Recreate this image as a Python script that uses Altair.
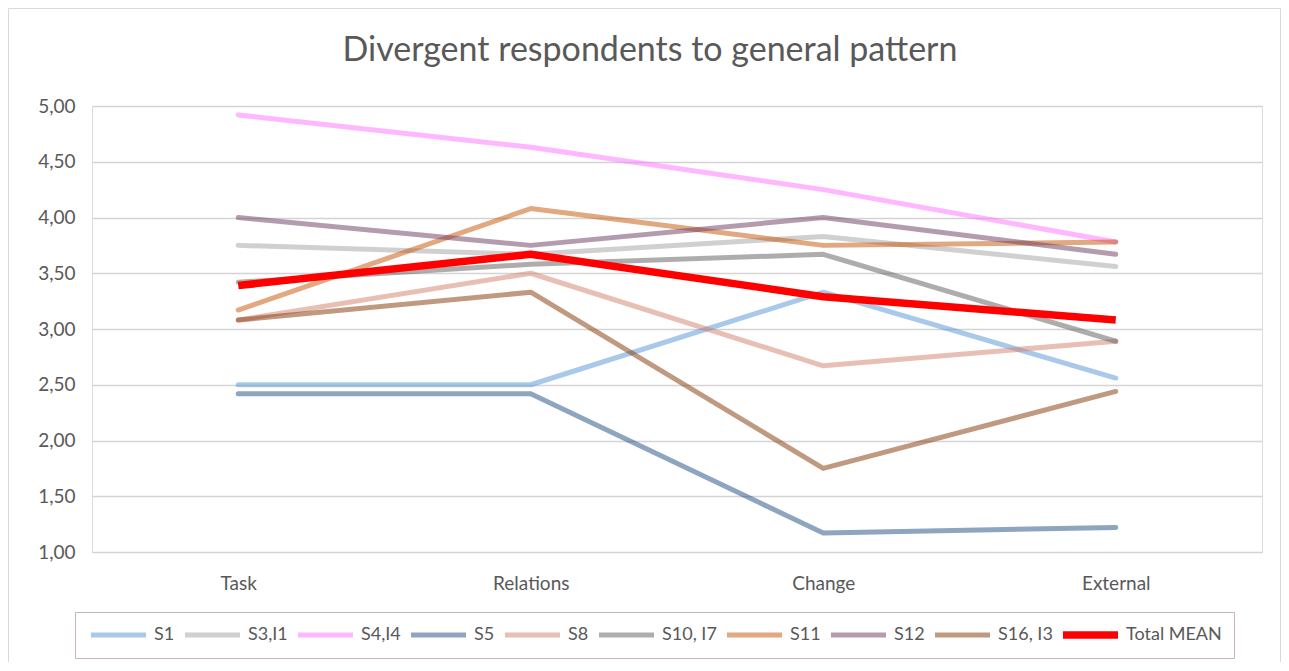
import altair as alt
import pandas as pd

categories = ["Task", "Relations", "Change", "External"]

series_names = ["S1", "S3,I1", "S4,I4", "S5", "S8", "S10, I7", "S11", "S12", "S16, I3", "Total MEAN"]

s1 = [2.50, 2.50, 3.33, 2.56]
s3_i1 = [3.75, 3.67, 3.83, 3.56]
s4_i4 = [4.92, 4.63, 4.25, 3.78]
s5 = [2.42, 2.42, 1.17, 1.22]
s8 = [3.08, 3.50, 2.67, 2.89]
s10_i7 = [3.42, 3.58, 3.67, 2.89]
s11 = [3.17, 4.08, 3.75, 3.78]
s12 = [4.00, 3.75, 4.00, 3.67]
s16_i3 = [3.08, 3.33, 1.75, 2.44]
total_mean = [3.39, 3.67, 3.29, 3.08]

series_values = [s1, s3_i1, s4_i4, s5, s8, s10_i7, s11, s12, s16_i3, total_mean]

colors = ["rgba(83,147,213,0.5)", "rgba(161,161,161,0.5)", "rgba(255,111,255,0.5)",
          "rgba(29,75,127,0.5)", "rgba(209,127,107,0.5)", "rgba(91,91,91,0.5)",
          "rgba(197,81,0,0.5)", "rgba(105,57,93,0.5)", "rgba(129,53,1,0.5)", "#ff0000"]
widths = [5] * 9 + [7.5]

rows = []
for name, vals in zip(series_names, series_values):
    for cat, v in zip(categories, vals):
        rows.append({"series": name, "category": cat, "value": v})
df = pd.DataFrame(rows)

FONT = "Lato"
TXT = "#595959"

legend = alt.Legend(
    orient="none", legendX=-17, legendY=506, direction="horizontal", columns=10,
    symbolType="stroke", symbolSize=3025, clipHeight=22,
    labelFont=FONT, labelFontSize=18, labelColor=TXT, labelOffset=4,
    columnPadding=6, padding=12, strokeColor="#c4b4c4", fillColor="white",
    title=None,
)

x_enc = alt.X("category:N", sort=categories,
              scale=alt.Scale(type="point", padding=0.5, domain=categories),
              axis=alt.Axis(title=None, domain=False, ticks=False, grid=False,
                            labelAngle=0, labelFont=FONT, labelFontSize=19,
                            labelColor=TXT, labelPadding=22))
y_enc = alt.Y("value:Q", scale=alt.Scale(domain=[1, 5], nice=False, zero=False),
              axis=alt.Axis(title=None, domain=False, ticks=False,
                            values=[1, 1.5, 2, 2.5, 3, 3.5, 4, 4.5, 5],
                            labelExpr="replace(format(datum.value, '.2f'), '.', ',')",
                            labelFont=FONT, labelFontSize=19, labelColor=TXT,
                            labelPadding=17, gridColor="#d4d4d4", gridWidth=1.3))

color_enc = alt.Color("series:N", scale=alt.Scale(domain=series_names, range=colors), legend=legend)
sw_enc = alt.StrokeWidth("series:N",
                         scale=alt.Scale(type="ordinal", domain=series_names, range=widths),
                         legend=legend)

others = alt.Chart(df).transform_filter(alt.datum.series != "Total MEAN").mark_line(
    strokeCap="round", strokeJoin="round"
).encode(x=x_enc, y=y_enc, color=color_enc, strokeWidth=sw_enc)

mean = alt.Chart(df).transform_filter(alt.datum.series == "Total MEAN").mark_line(
    strokeCap="butt", strokeJoin="round"
).encode(x=x_enc, y=y_enc, color=color_enc, strokeWidth=sw_enc)

frame = alt.Chart(pd.DataFrame({"a": [0]})).mark_rect(
    fill=None, stroke="#d9d9d9", strokeWidth=1
).encode(
    x=alt.value(-83.5), x2=alt.value(1188.5), y=alt.value(-97.5), y2=alt.value(556.5)
)

chart = alt.layer(frame, others, mean).properties(
    width=1170, height=446,
    title=alt.TitleParams(
        "Divergent respondents to general pattern", font=FONT, fontSize=34,
        fontWeight="normal", color=TXT, anchor="middle", dx=-27, offset=0, dy=60,
        frame="group",
    ),
    autosize=alt.AutoSizeParams(type="none"),
    padding={"left": 84, "top": 98, "right": 19, "bottom": 110},
).configure_view(stroke=None).configure(background="white")

chart.save("out.html", embed_options={"renderer": "svg", "actions": False})
